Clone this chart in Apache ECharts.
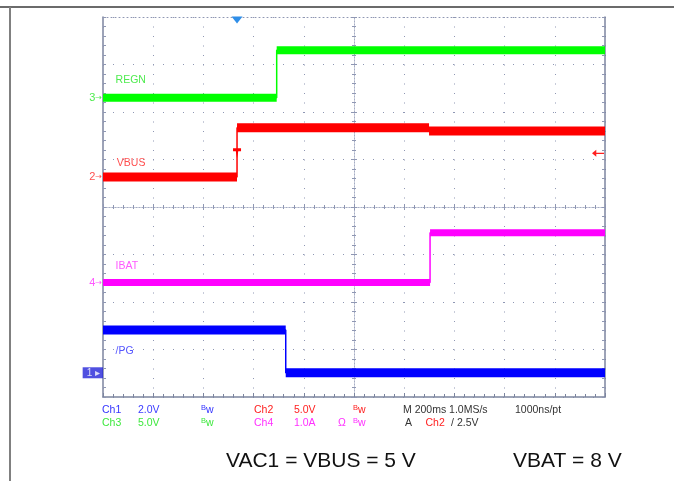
<!DOCTYPE html>
<html><head><meta charset="utf-8">
<script src="https://cdn.jsdelivr.net/npm/echarts@6/dist/echarts.min.js"></script>
<style>html,body{margin:0;padding:0;background:#fff}#c{width:674px;height:481px}</style>
</head><body><div id="c"></div>
<script>
// Horizontal: time in ms (200 ms/div, 10 div). Vertical: screen divisions (-4..4).
const regnT = [-1000, -308, -308, 1000];
const regnV = [2.3, 2.3, 3.3, 3.3];
const vbusT = [-1000, -466, -466, 299, 299, 1000];
const vbusV = [0.63, 0.63, 1.67, 1.67, 1.6, 1.6];
const ibatT = [-1000, 303, 303, 1000];
const ibatV = [-1.59, -1.59, -0.54, -0.54];
const pgT = [-1000, -272, -272, 1000];
const pgV = [-2.59, -2.59, -3.49, -3.49];
const groundLevels = [2.3, 0.63, -1.59, -3.49];
const channelNames = ['REGN', 'VBUS', 'IBAT', '/PG'];
const channelNums = ['3', '2', '4', '1'];
const nameAnchorT = [-950, -945, -950, -950];
const nameAnchorV = [2.68, 0.93, -1.25, -3.03];
const triggerTime = -466;
const triggerLevel = 1.13;
const row1 = ['Ch1', '2.0V', 'Bw', 'Ch2', '5.0V', 'Bw', 'M 200ms 1.0MS/s', '1000ns/pt'];
const row2 = ['Ch3', '5.0V', 'Bw', 'Ch4', '1.0A', 'Ω', 'Bw', 'A', 'Ch2', '/', '2.5V'];
const footLeft = 'VAC1 = VBUS = 5 V';
const footRight = 'VBAT = 8 V';

const FONT = 'Liberation Sans, Arial, sans-serif';
const GRIDC = '#8f97b3';
const BORDERC = '#7c859f';
const colors = ['#00ff00', '#ff0000', '#ff00ff', '#0000ff'];
const labelColors = ['#22e622', '#ff2020', '#ff30ff', '#2a2aff'];
const widths = [8, 9, 7, 9];
const channels = [[regnT, regnV], [vbusT, vbusV], [ibatT, ibatV], [pgT, pgV]];

function pts(T, V) { return T.map((t, i) => [t, V[i]]); }
function bands(T, V) {
  const out = [];
  for (let i = 0; i < T.length - 1; i++) {
    if (T[i + 1] !== T[i]) {
      if (out.length) out.push('-');
      out.push([T[i], V[i]], [T[i + 1], V[i + 1]]);
    }
  }
  return out;
}

const series = [];
channels.forEach((c, k) => {
  series.push({
    type: 'line', data: pts(c[0], c[1]), symbol: 'none', animation: false, z: 3,
    lineStyle: { color: colors[k], width: 1.5 }
  });
  const s = {
    type: 'line', data: bands(c[0], c[1]), symbol: 'none', animation: false, z: 4,
    connectNulls: false,
    lineStyle: { color: colors[k], width: widths[k], cap: 'butt' }
  };
  if (k === 1) {
    s.markPoint = {
      animation: false,
      data: [
        { coord: [triggerTime, triggerLevel], symbol: 'path://M0,0 L10,0 L10,3 L6.5,3 L5,10 L3.5,3 L0,3 Z', symbolSize: [8, 10], itemStyle: { color: '#ff0000' }, label: { show: false } },
        { coord: [1000, triggerLevel], symbol: 'path://M0,5 L5,0 L5,4 L14,4 L14,6 L5,6 L5,10 Z', symbolSize: [12, 7], symbolOffset: [-7, 0], itemStyle: { color: '#ff2020' }, label: { show: false } },
        { coord: [triggerTime, 4], symbol: 'triangle', symbolRotate: 180, symbolSize: [11, 7], symbolOffset: [0, 3], itemStyle: { color: '#2f8ee8' }, label: { show: false } }
      ]
    };
  }
  series.push(s);
});
// channel ground markers at the left edge
series.push({
  type: 'scatter', symbolSize: 0, animation: false, z: 6, clip: false,
  data: channels.map((c, k) => ({
    value: [c[0][0], groundLevels[k]],
    label: k === 3 ? {
      show: true, position: 'left', distance: 0, formatter: '1 ▸',
      color: '#fff', backgroundColor: '#2424d8', padding: [1, 3, 0, 4],
      fontSize: 10, fontFamily: FONT
    } : {
      show: true, position: 'left', distance: 1, formatter: '{n|' + channelNums[k] + '}{a|→}',
      color: labelColors[k],
      rich: { n: { fontSize: 11, fontFamily: FONT, color: labelColors[k] }, a: { fontSize: 8, fontFamily: 'DejaVu Sans', color: labelColors[k] } }
    }
  }))
});
// channel name labels
series.push({
  type: 'scatter', symbolSize: 0, animation: false, z: 5,
  data: channelNames.map((n, k) => ({
    value: [nameAnchorT[k], nameAnchorV[k]],
    label: { show: true, position: 'right', distance: 0, formatter: n, color: labelColors[k], fontSize: 10.5, fontFamily: FONT }
  }))
});

const baseAx = { min: -1000, max: 1000, interval: 200, axisLabel: { show: false }, splitLine: { show: false } };
const baseAy = { min: -4, max: 4, interval: 1, axisLabel: { show: false }, splitLine: { show: false } };

const option = {
  animation: false,
  grid: { left: 103, top: 17, width: 502, height: 380 },
  xAxis: [
    Object.assign({}, baseAx, { type: 'value', position: 'bottom', axisLine: { onZero: false, lineStyle: { color: BORDERC, width: 1.5 } },
      axisTick: { show: true, inside: true, length: 4, lineStyle: { color: BORDERC } },
      minorTick: { show: true, splitNumber: 5, length: 3, lineStyle: { color: BORDERC } },
      splitLine: { show: true, lineStyle: { color: GRIDC, width: 1, type: [1, 8.5] } } }),
    Object.assign({}, baseAx, { type: 'value', position: 'top', axisLine: { onZero: false, lineStyle: { color: GRIDC, width: 1, type: [1, 3] } },
      axisTick: { show: false } }),
    Object.assign({}, baseAx, { type: 'value', position: 'bottom', axisLine: { onZero: true, onZeroAxisIndex: 0, lineStyle: { color: '#a6adc4', width: 1, type: [1, 2] } },
      axisTick: { show: true, inside: true, length: 3, lineStyle: { color: GRIDC } },
      minorTick: { show: true, splitNumber: 5, length: 2, lineStyle: { color: GRIDC } } }),
    Object.assign({}, baseAx, { type: 'value', position: 'top', axisLine: { onZero: true, onZeroAxisIndex: 0, lineStyle: { color: '#a6adc4', width: 1, type: [1, 2] } },
      axisTick: { show: true, inside: true, length: 3, lineStyle: { color: GRIDC } },
      minorTick: { show: true, splitNumber: 5, length: 2, lineStyle: { color: GRIDC } } })
  ],
  yAxis: [
    Object.assign({}, baseAy, { type: 'value', position: 'left', axisLine: { show: true, onZero: false, lineStyle: { color: BORDERC, width: 1.5 } },
      axisTick: { show: true, inside: true, length: 3, lineStyle: { color: GRIDC } },
      minorTick: { show: true, splitNumber: 5, length: 3, lineStyle: { color: GRIDC } },
      splitLine: { show: true, lineStyle: { color: GRIDC, width: 1, type: [1, 9] } } }),
    Object.assign({}, baseAy, { type: 'value', position: 'right', axisLine: { show: true, onZero: false, lineStyle: { color: BORDERC, width: 1.5 } },
      axisTick: { show: true, inside: true, length: 3, lineStyle: { color: GRIDC } },
      minorTick: { show: true, splitNumber: 5, length: 3, lineStyle: { color: GRIDC } } }),
    Object.assign({}, baseAy, { type: 'value', position: 'left', axisLine: { show: true, onZero: true, onZeroAxisIndex: 0, lineStyle: { color: '#a6adc4', width: 1, type: [1, 2] } },
      axisTick: { show: true, inside: true, length: 3, lineStyle: { color: GRIDC } },
      minorTick: { show: true, splitNumber: 5, length: 2, lineStyle: { color: GRIDC } } }),
    Object.assign({}, baseAy, { type: 'value', position: 'right', axisLine: { show: true, onZero: true, onZeroAxisIndex: 0, lineStyle: { color: '#a6adc4', width: 1, type: [1, 2] } },
      axisTick: { show: true, inside: true, length: 3, lineStyle: { color: GRIDC } },
      minorTick: { show: true, splitNumber: 5, length: 2, lineStyle: { color: GRIDC } } })
  ],
  series: series,
  graphic: []
};

// frame lines
option.graphic.push({ type: 'line', shape: { x1: 0, y1: 7, x2: 674, y2: 7 }, style: { stroke: '#3a3a3a', lineWidth: 1.5 }, silent: true });
option.graphic.push({ type: 'line', shape: { x1: 10, y1: 7, x2: 10, y2: 481 }, style: { stroke: '#808080', lineWidth: 2 }, silent: true });

// status rows
function txt(x, y, s, color) {
  const isBw = s === 'Bw';
  const rich = {};
  if (isBw) {
    rich.b = { fontSize: 7.5, fill: color, fontFamily: FONT, padding: [0, 0, 5, 0] };
    rich.w = { fontSize: 10.5, fill: color, fontFamily: FONT };
  }
  option.graphic.push({ type: 'text', x: x, y: y, silent: true,
    style: { text: isBw ? '{b|B}{w|w}' : s, rich: isBw ? rich : undefined, fill: color, font: '10.5px ' + FONT, verticalAlign: 'middle', align: 'left' } });
}
const r1x = [102, 138, 201, 254, 294, 353, 403, 515];
const r1c = ['#3434ff', '#3c3cff', '#3434ff', '#ff2020', '#ff2020', '#ff2020', '#333333', '#333333'];
row1.forEach((s, i) => txt(r1x[i], 410.5, s, r1c[i]));
const r2x = [102, 138, 201, 254, 294, 338, 353, 405, 425.5, 451, 457];
const r2c = ['#3ee83e', '#3ee83e', '#3ee83e', '#ff30ff', '#ff30ff', '#ff30ff', '#ff30ff', '#333333', '#ff2020', '#333333', '#333333'];
row2.forEach((s, i) => txt(r2x[i], 423.5, s, r2c[i]));

// footer
option.graphic.push({ type: 'text', x: 226, y: 461, silent: true, style: { text: footLeft, fill: '#111', font: '21px ' + FONT, verticalAlign: 'middle' } });
option.graphic.push({ type: 'text', x: 513, y: 461, silent: true, style: { text: footRight, fill: '#111', font: '21px ' + FONT, verticalAlign: 'middle' } });

const chart = echarts.init(document.getElementById('c'), null, { renderer: 'canvas' });
chart.setOption(option);
</script></body></html>
